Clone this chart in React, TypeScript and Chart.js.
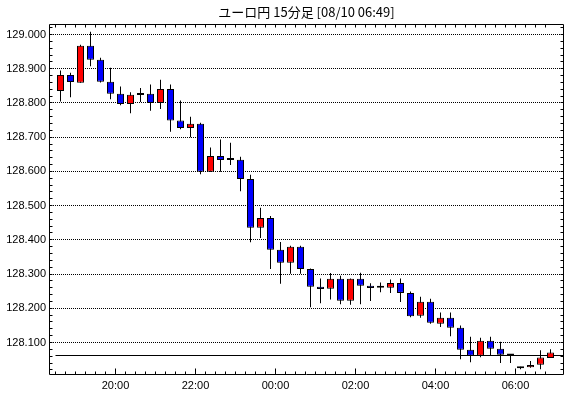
import React, { useEffect, useRef } from 'react';
import { Chart, registerables } from 'chart.js';

Chart.register(...registerables);

const chartTitle = 'ユーロ円 15分足 [08/10 06:49]';

const times = [
  '18:30', '18:45', '19:00', '19:15', '19:30', '19:45', '20:00', '20:15', '20:30', '20:45',
  '21:00', '21:15', '21:30', '21:45', '22:00', '22:15', '22:30', '22:45', '23:00', '23:15',
  '23:30', '23:45', '00:00', '00:15', '00:30', '00:45', '01:00', '01:15', '01:30', '01:45',
  '02:00', '02:15', '02:30', '02:45', '03:00', '03:15', '03:30', '03:45', '04:00', '04:15',
  '04:30', '04:45', '05:00', '05:15', '05:30', '05:45', '06:00', '06:15', '06:30', '06:45',
];

const opens = [
  128.835, 128.882, 128.859, 128.967, 128.926, 128.862, 128.827, 128.797, 128.827, 128.827,
  128.800, 128.841, 128.749, 128.727, 128.739, 128.599, 128.645, 128.633, 128.634, 128.578,
  128.435, 128.464, 128.371, 128.333, 128.380, 128.315, 128.263, 128.257, 128.286, 128.222,
  128.286, 128.266, 128.260, 128.260, 128.274, 128.245, 128.178, 128.219, 128.155, 128.172,
  128.143, 128.079, 128.061, 128.105, 128.082, 128.065, 128.028, 128.028, 128.035, 128.055,
];

const highs = [
  128.895, 128.888, 128.970, 129.008, 128.932, 128.903, 128.848, 128.831, 128.844, 128.854,
  128.868, 128.854, 128.807, 128.760, 128.742, 128.670, 128.693, 128.684, 128.643, 128.590,
  128.494, 128.470, 128.394, 128.383, 128.383, 128.316, 128.287, 128.303, 128.295, 128.287,
  128.304, 128.273, 128.275, 128.284, 128.287, 128.249, 128.234, 128.228, 128.188, 128.188,
  128.150, 128.117, 128.114, 128.117, 128.102, 128.066, 128.029, 128.046, 128.077, 128.080,
];

const lows = [
  128.804, 128.817, 128.859, 128.907, 128.860, 128.811, 128.793, 128.770, 128.803, 128.777,
  128.782, 128.716, 128.723, 128.700, 128.592, 128.599, 128.599, 128.619, 128.542, 128.393,
  128.405, 128.315, 128.272, 128.301, 128.301, 128.203, 128.215, 128.226, 128.212, 128.210,
  128.212, 128.221, 128.247, 128.245, 128.218, 128.174, 128.172, 128.155, 128.145, 128.118,
  128.051, 128.042, 128.057, 128.062, 128.040, 128.040, 128.022, 128.026, 128.022, 128.055,
];

const closes = [
  128.882, 128.861, 128.967, 128.926, 128.862, 128.827, 128.797, 128.824, 128.823, 128.800,
  128.841, 128.749, 128.727, 128.739, 128.599, 128.645, 128.633, 128.633, 128.578, 128.435,
  128.464, 128.371, 128.333, 128.380, 128.315, 128.263, 128.256, 128.286, 128.222, 128.286,
  128.266, 128.259, 128.260, 128.274, 128.245, 128.177, 128.219, 128.158, 128.172, 128.143,
  128.079, 128.061, 128.105, 128.082, 128.064, 128.062, 128.025, 128.034, 128.056, 128.071,
];

const xTickLabels = ['20:00', '22:00', '00:00', '02:00', '04:00', '06:00'];
const yTickLabels = [128.1, 128.2, 128.3, 128.4, 128.5, 128.6, 128.7, 128.8, 128.9, 129.0];
const yMinorStep = 0.02;
const referencePrice = 128.062;

const X_MIN = -0.65;
const X_MAX = 50.85;
const Y_MIN = 128.00503;
const Y_MAX = 129.03068;

const labelFont = { family: "'Liberation Sans', Arial, sans-serif", size: 11 };

const isMajorY = (v: number) => yTickLabels.some((t) => Math.abs(t - v) < 1e-6);

const yTickValues: number[] = [];
for (let v = yTickLabels[0] - 4 * yMinorStep; v <= Y_MAX + 1e-9; v += yMinorStep) {
  const r = Math.round(v * 1000) / 1000;
  if (r >= Y_MIN) yTickValues.push(r);
}

const framePlugin = {
  id: 'frameTicks',
  afterDraw(chart: any) {
    const { ctx, chartArea: a, scales } = chart;
    const x = scales.x;
    const y = scales.y;
    const al = (p: number) => Math.floor(p) + 0.5;
    ctx.save();
    ctx.strokeStyle = '#000';
    ctx.lineWidth = 1;
    ctx.setLineDash([]);
    ctx.beginPath();
    const left = al(a.left);
    const right = al(a.right - 1);
    const top = al(a.top);
    const bottom = al(a.bottom - 1);
    ctx.rect(left, top, right - left, bottom - top);
    x.ticks.forEach((t: any) => {
      const px = al(x.getPixelForValue(t.value));
      const major = xTickLabels.includes(times[t.value]);
      ctx.moveTo(px, bottom);
      ctx.lineTo(px, bottom - (major ? 6 : 3));
      ctx.moveTo(px, top);
      ctx.lineTo(px, top + 3);
    });
    y.ticks.forEach((t: any) => {
      const py = al(y.getPixelForValue(t.value));
      ctx.moveTo(left, py);
      ctx.lineTo(left + 3, py);
      ctx.moveTo(right, py);
      ctx.lineTo(right - 3, py);
    });
    ctx.stroke();
    ctx.restore();
  },
};

export default function App() {
  const ref = useRef<HTMLCanvasElement>(null);

  useEffect(() => {
    if (!ref.current) return;
    const bodies = times.map((_, i) => ({ x: i + 0.5, y: [opens[i], closes[i]] }));
    const wicks = times.map((_, i) => ({ x: i + 0.5, y: [lows[i], highs[i]] }));
    const colors = times.map((_, i) =>
      closes[i] > opens[i] ? '#ff0000' : closes[i] < opens[i] ? '#0000ff' : '#000000'
    );

    const chart = new Chart(ref.current, {
      type: 'bar',
      data: {
        datasets: [
          {
            type: 'bar',
            label: 'body',
            data: bodies as any,
            backgroundColor: colors,
            borderColor: '#000',
            borderWidth: 1,
            borderSkipped: false,
            barThickness: 7,
            minBarLength: 2,
            grouped: false,
            inflateAmount: 0,
            order: 0,
          } as any,
          {
            type: 'bar',
            label: 'wick',
            data: wicks as any,
            backgroundColor: '#000',
            borderWidth: 0,
            barThickness: 1,
            grouped: false,
            inflateAmount: 0,
            order: 1,
          } as any,
          {
            type: 'line',
            label: 'ref',
            data: [
              { x: 0, y: referencePrice },
              { x: X_MAX, y: referencePrice },
            ],
            borderColor: '#000',
            borderWidth: 1,
            pointRadius: 0,
            order: 2,
          } as any,
        ],
      },
      options: {
        animation: false,
        responsive: false,
        events: [],
        layout: { padding: { left: 0, right: 6, top: 0, bottom: 0 } },
        plugins: {
          legend: { display: false },
          tooltip: { enabled: false },
          title: {
            display: true,
            text: chartTitle,
            fullSize: false,
            color: '#000',
            font: { family: "'Noto Sans CJK JP', 'Liberation Sans', sans-serif", size: 13, weight: 'normal', lineHeight: 1.2 },
            padding: { top: 4.5, bottom: 3.9 },
          },
        },
        scales: {
          x: {
            type: 'linear',
            min: X_MIN,
            max: X_MAX,
            offset: false,
            grid: { display: false, drawTicks: false, offset: false },
            border: { display: false },
            afterBuildTicks: (scale: any) => {
              scale.ticks = times.map((_, k) => ({ value: k }));
            },
            afterFit: (scale: any) => {
              scale.height = 23;
            },
            ticks: {
              autoSkip: false,
              maxRotation: 0,
              minRotation: 0,
              padding: 4,
              color: '#000',
              font: labelFont,
              callback: (value: any) => {
                const lbl = times[Number(value)];
                return xTickLabels.includes(lbl) ? lbl : '';
              },
            },
          },
          y: {
            type: 'linear',
            min: Y_MIN,
            max: Y_MAX,
            beginAtZero: false,
            grid: {
              drawTicks: false,
              lineWidth: 1,
              color: (c: any) => (c.tick && isMajorY(c.tick.value) ? '#000' : 'rgba(0,0,0,0)'),
            },
            border: { display: false, dash: [1, 1] },
            afterBuildTicks: (scale: any) => {
              scale.ticks = yTickValues.map((v) => ({ value: v }));
            },
            afterFit: (scale: any) => {
              scale.width = 49;
            },
            ticks: {
              autoSkip: false,
              padding: 3,
              color: '#000',
              font: labelFont,
              callback: (value: any) => (isMajorY(Number(value)) ? Number(value).toFixed(3) : ''),
            },
          },
        },
      } as any,
      plugins: [framePlugin],
    });

    return () => chart.destroy();
  }, []);

  return (
    <div style={{ position: 'fixed', left: 0, top: 0, width: 570, height: 398, background: '#fff' }}>
      <canvas ref={ref} width={570} height={398} style={{ display: 'block', width: 570, height: 398 }} />
    </div>
  );
}
